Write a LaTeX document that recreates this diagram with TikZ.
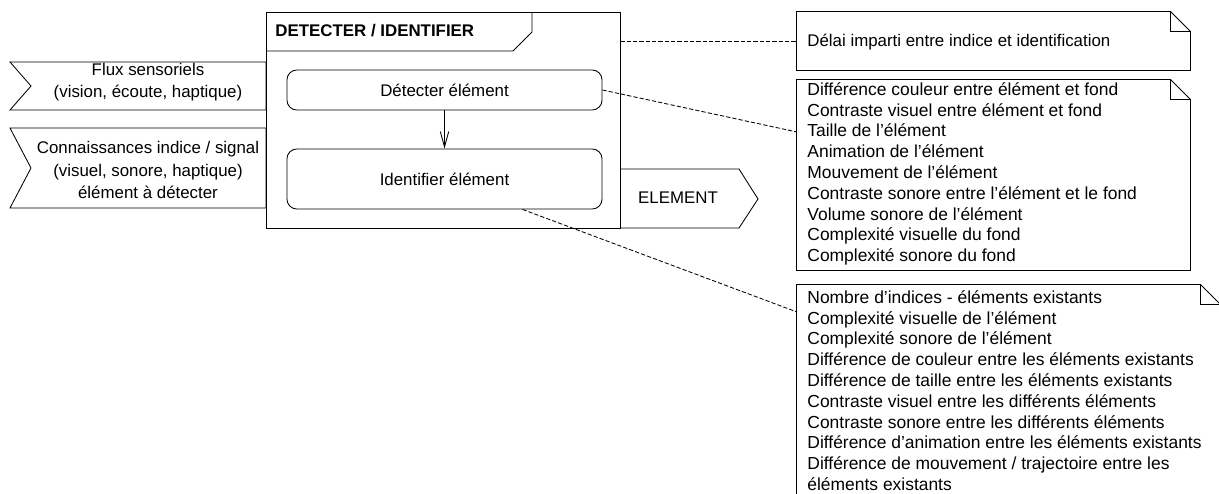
\documentclass[tikz,border=0pt]{standalone}
\usepackage{fontspec}
\setmainfont{Liberation Sans}
\usetikzlibrary{arrows.meta}

\tikzset{
  cadre/.style={draw, rectangle, inner sep=0pt},
  etape/.style={draw, rounded corners=7pt, minimum width=7.875cm, inner sep=0pt, align=center},
  lien/.style={dash pattern=on 3pt off 1.5pt},
  texte/.style={inner sep=0pt, align=left},
  liste/.style={inner sep=0pt, align=left, anchor=north west, font=\fontsize{12.4}{14.8}\selectfont},
  entree/.style={inner sep=0pt, align=center, font=\fontsize{12}{16}\selectfont},
}

\begin{document}
\begin{tikzpicture}[x=0.025cm, y=-0.025cm, line width=0.6pt, font=\fontsize{12}{14.8}\selectfont]
    \useasboundingbox (0,0) rectangle (1219,494);

    % entrees
    \draw (10,62) -- (266,62) -- (266,110) -- (10,110) -- (31,86) -- cycle;
    \draw (10,128) -- (266,128) -- (266,208) -- (10,208) -- (31,168) -- cycle;
    \node[entree] (flux) at (148,82) {Flux sensoriels\\(vision, écoute, haptique)};
    \node[entree] (connaissances) at (148,170) {Connaissances indice / signal\\(visuel, sonore, haptique)\\élément à détecter};

    % processus
    \node[cadre, minimum width=8.85cm, minimum height=5.4cm] (processus) at (443,120) {};
    \draw (266,51) -- (513,51) -- (532,32) -- (532,12);
    \node[anchor=west, inner sep=0pt, font=\fontsize{12}{14.8}\selectfont\bfseries] (titre) at (275,31) {DETECTER / IDENTIFIER};
    \node[etape, minimum height=1cm] (detecter) at (444.5,90) {Détecter élément};
    \node[etape, minimum height=1.5cm] (identifier) at (444.5,179) {Identifier élément};
    \draw[-{Straight Barb[length=11pt, width=6pt]}] (detecter) -- (identifier);

    % sortie
    \draw (620,169) -- (739,169) -- (758,199) -- (739,228) -- (620,228);
    \node[inner sep=0pt] (element) at (678,198) {ELEMENT};

    % notes
    \node[cadre, draw=none, minimum width=9.825cm, minimum height=1.45cm] (note1) at (993.5,41) {};
    \draw (note1.south west) -- (note1.north west) -- ([xshift=-0.5cm]note1.north east) -- ([yshift=-0.5cm]note1.north east) -- (note1.south east) -- cycle;
    \draw ([xshift=-0.5cm]note1.north east) -- ++(0,20) -- ([yshift=-0.5cm]note1.north east);
    \node[texte, anchor=west] (delai) at (807,42) {Délai imparti entre indice et identification};

    \node[cadre, draw=none, minimum width=9.825cm, minimum height=4.75cm] (note2) at (993.5,175) {};
    \draw (note2.south west) -- (note2.north west) -- ([xshift=-0.5cm]note2.north east) -- ([yshift=-0.5cm]note2.north east) -- (note2.south east) -- cycle;
    \draw ([xshift=-0.5cm]note2.north east) -- ++(0,20) -- ([yshift=-0.5cm]note2.north east);
    \node[liste] (liste2) at (807,82) {Différence couleur entre élément et fond\\
        Contraste visuel entre élément et fond\\
        Taille de l’élément\\
        Animation de l'élément\\
        Mouvement de l’élément\\
        Contraste sonore entre l’élément et le fond\\
        Volume sonore de l’élément\\
        Complexité visuelle du fond\\
        Complexité sonore du fond};

    \node[cadre, draw=none, minimum width=10.575cm, minimum height=5.875cm] (note3) at (1008.5,402.5) {};
    \draw (note3.south west) -- (note3.north west) -- ([xshift=-0.5cm]note3.north east) -- ([yshift=-0.5cm]note3.north east) -- (note3.south east) -- cycle;
    \draw ([xshift=-0.5cm]note3.north east) -- ++(0,20) -- ([yshift=-0.5cm]note3.north east);
    \node[liste] (liste3) at (807,290) {Nombre d’indices - éléments existants\\
        Complexité visuelle de l’élément\\
        Complexité sonore de l’élément\\
        Différence de couleur entre les éléments existants\\
        Différence de taille entre les éléments existants\\
        Contraste visuel entre les différents éléments\\
        Contraste sonore entre les différents éléments\\
        Différence d’animation entre les éléments existants\\
        Différence de mouvement / trajectoire entre les\\
        éléments existants};

    % liens
    \coordinate (ancre2) at (797,132);
    \coordinate (ancre3) at (797,312);
    \draw[lien] (processus.east |- note1.west) -- (note1.west);
    \draw[lien] (detecter.east) -- (ancre2);
    \draw[lien] ([xshift=1.95cm]identifier.south) -- (ancre3);
\end{tikzpicture}
\end{document}
